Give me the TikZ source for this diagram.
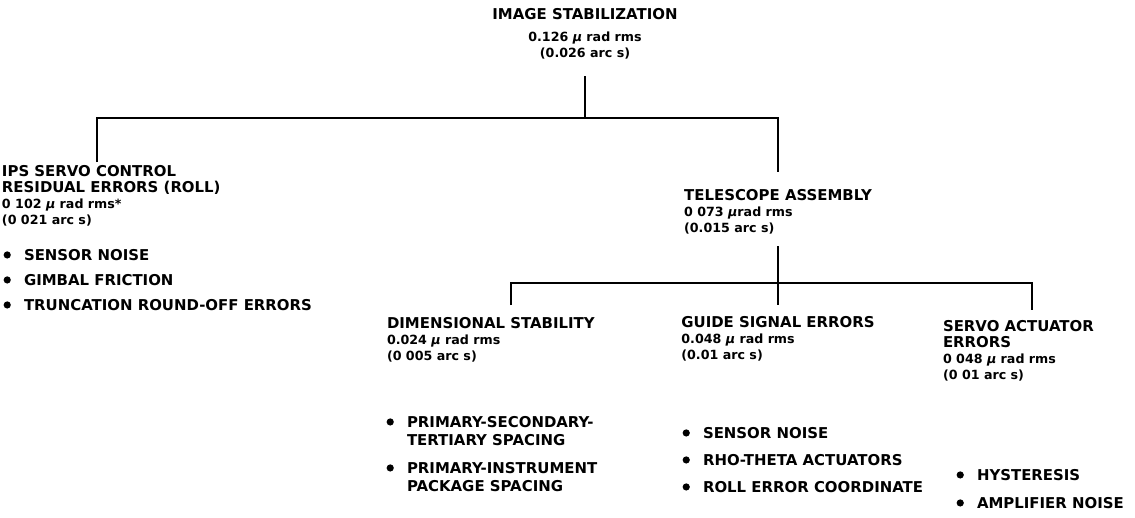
\documentclass[tikz,border=0pt]{standalone}
\usepackage{fontspec}
\setmainfont{DejaVu Sans}
\usepackage{tikz}
\usetikzlibrary{positioning, calc}

\newcommand{\numsize}{\fontsize{7.2}{9}\selectfont}
\newcommand{\mur}{{\itshape µ}}

\begin{document}
\begin{tikzpicture}[x=0.02cm, y=-0.02cm,
		every node/.style={inner sep=0pt, outer sep=0pt},
		head/.style={font=\fontsize{8.5}{9.1}\selectfont\bfseries, align=left},
		item/.style={font=\fontsize{8.5}{10.2}\selectfont\bfseries, align=left, anchor=north west},
		dot/.style={circle, fill, minimum size=4.1pt, left=7.5pt of #1, yshift=-3.1pt},
		tree/.style={line width=1pt}]
	\useasboundingbox (0,0) rectangle (1135,517);

	% headings
	\node[head, anchor=north, align=center] (img) at (585,8) {IMAGE STABILIZATION\\[3.4pt]{\numsize 0.126 \mur\ rad rms}\\{\numsize (0.026 arc s)}};
	\node[head, anchor=north west] (ips) at (2,165.5) {IPS SERVO CONTROL\\RESIDUAL ERRORS (ROLL)\\{\numsize 0 102 \mur\ rad rms*}\\{\numsize (0 021 arc s)}};
	\node[head, anchor=north] (tel) at (778,189.5) {TELESCOPE ASSEMBLY\\{\numsize 0 073 \mur rad rms}\\{\numsize (0.015 arc s)}};
	\node[head, anchor=north west] (dim) at (387,317.5) {DIMENSIONAL STABILITY\\{\numsize 0.024 \mur\ rad rms}\\{\numsize (0 005 arc s)}};
	\node[head, anchor=north] (guide) at (778,316.5) {GUIDE SIGNAL ERRORS\\{\numsize 0.048 \mur\ rad rms}\\{\numsize (0.01 arc s)}};
	\node[head, anchor=north west] (servo) at (943,320.5) {SERVO ACTUATOR\\ERRORS\\{\numsize 0 048 \mur\ rad rms}\\{\numsize (0 01 arc s)}};

	% error sources
	\node[item] (ipsA) at (24,249.5) {SENSOR NOISE};
	\node[item] (ipsB) at (24,274.5) {GIMBAL FRICTION};
	\node[item] (ipsC) at (24,299.5) {TRUNCATION ROUND-OFF ERRORS};
	\node[item] (dimA) at (407,416.5) {PRIMARY-SECONDARY-\\TERTIARY SPACING};
	\node[item] (dimB) at (407,462.5) {PRIMARY-INSTRUMENT\\PACKAGE SPACING};
	\node[item] (guideA) at (703,427.5) {SENSOR NOISE};
	\node[item] (guideB) at (703,454.5) {RHO-THETA ACTUATORS};
	\node[item] (guideC) at (703,481.5) {ROLL ERROR COORDINATE};
	\node[item] (servoA) at (977,469.5) {HYSTERESIS};
	\node[item] (servoB) at (977,497.5) {AMPLIFIER NOISE};

	\node[dot=ipsA.north west] (ipsAd) {};
	\node[dot=ipsB.north west] (ipsBd) {};
	\node[dot=ipsC.north west] (ipsCd) {};
	\node[dot=dimA.north west] (dimAd) {};
	\node[dot=dimB.north west] (dimBd) {};
	\node[dot=guideA.north west] (guideAd) {};
	\node[dot=guideB.north west] (guideBd) {};
	\node[dot=guideC.north west] (guideCd) {};
	\node[dot=servoA.north west] (servoAd) {};
	\node[dot=servoB.north west] (servoBd) {};

	% tree
	\coordinate (j1) at (585,118);
	\coordinate (j2) at (778,283);
	\draw[tree] ($(img.south)+(0,17.5)$) -- (j1);
	\draw[tree] ($(ips.north west)+(95,-3.5)$) |- (j1) -| ($(tel.north)+(0,-17.5)$);
	\draw[tree] ($(tel.south)+(0,12)$) -- ($(guide.north)+(0,-11.5)$);
	\draw[tree] ($(dim.north west)+(124,-12.5)$) |- (j2) -| ($(servo.north west)+(89,-10.5)$);
\end{tikzpicture}
\end{document}
